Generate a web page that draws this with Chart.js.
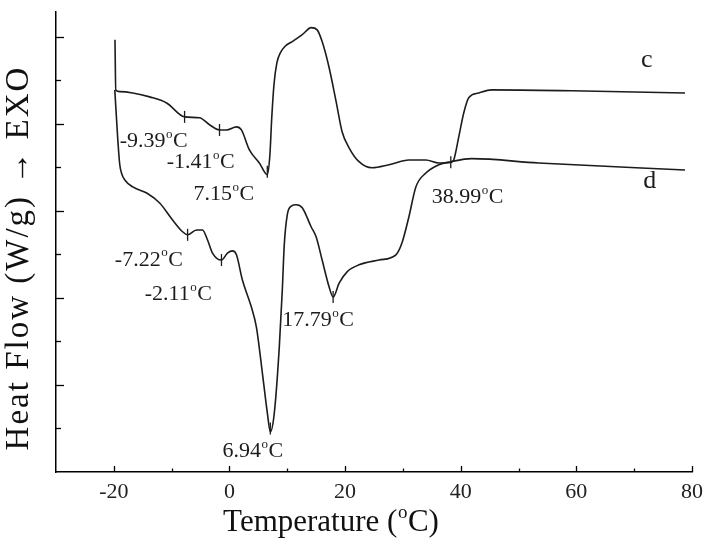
<!DOCTYPE html>
<html><head><meta charset="utf-8">
<script src="https://cdn.jsdelivr.net/npm/chart.js@4.4.1/dist/chart.umd.min.js"></script>
<style>html,body{margin:0;padding:0;background:#fff}#wrap{width:710px;height:547px}</style>
</head><body><div id="wrap"><canvas id="chart" width="710" height="547" style="width:710px;height:547px"></canvas></div>
<script>
// ---- data ----
const cTemp = [-19.8, -19.66, -18.97, -16.72, -13.79, -10.86, -7.76, -5.17, -3.45, -1.72, -0.52, 1.21, 2.07, 3.45, 5.17, 6.55, 7.0, 7.3, 7.7, 8.2, 8.8, 9.66, 10.86, 12.59, 14.14, 15.17, 16.03, 17.24, 18.45, 19.48, 20.69, 22.41, 24.66, 27.59, 31.03, 33.97, 36.21, 38.28, 38.79, 39.66, 40.52, 41.38, 43.1, 45.34, 59.14, 78.79];
const cHeat = [9.93, 8.78, 8.74, 8.71, 8.62, 8.48, 8.16, 8.14, 7.98, 7.86, 7.86, 7.93, 7.86, 7.40, 7.10, 6.83, 7.30, 8.10, 8.90, 9.40, 9.63, 9.79, 9.89, 10.05, 10.21, 10.16, 9.89, 9.29, 8.51, 7.82, 7.45, 7.13, 6.99, 7.06, 7.17, 7.17, 7.10, 7.11, 7.17, 7.70, 8.25, 8.60, 8.71, 8.78, 8.76, 8.71];
const dTemp = [-19.83, -19.31, -18.97, -18.62, -18.1, -16.72, -14.31, -12.07, -9.83, -8.1, -7.24, -5.69, -4.66, -3.79, -2.93, -1.38, -0.34, 0.52, 1.21, 2.24, 3.79, 4.66, 5.69, 6.55, 7.07, 7.76, 8.62, 9.14, 9.48, 10.0, 10.69, 11.55, 12.59, 14.14, 15.0, 16.03, 17.24, 17.93, 18.97, 20.34, 22.41, 25.86, 28.79, 29.83, 31.03, 32.24, 33.97, 36.21, 38.28, 41.9, 53.45, 78.79];
const dHeat = [8.78, 7.63, 7.06, 6.85, 6.71, 6.55, 6.41, 6.18, 5.79, 5.52, 5.45, 5.56, 5.56, 5.33, 5.03, 4.87, 5.03, 5.08, 4.99, 4.41, 3.79, 3.33, 2.28, 1.36, 0.92, 1.36, 2.87, 4.18, 5.22, 5.91, 6.11, 6.14, 6.07, 5.63, 5.40, 4.87, 4.25, 4.02, 4.34, 4.60, 4.76, 4.87, 4.99, 5.26, 5.86, 6.55, 6.87, 7.06, 7.13, 7.20, 7.10, 6.94];
// marked transition points (small vertical ticks on the curves)
const markTemp = [-7.76, -1.72, 6.55, -7.24, -1.38, 7.07, 17.93, 38.28];
const markHeat = [8.16, 7.86, 6.90, 5.45, 4.87, 1.00, 4.02, 7.12];
// peak annotations and curve names
const peakLabels = ['-9.39°C', '-1.41°C', '7.15°C', '-7.22°C', '-2.11°C', '17.79°C', '6.94°C', '38.99°C'];
const curveNames = ['c', 'd'];
const xTickLabels = [-20, 0, 20, 40, 60, 80];
const xTitle = 'Temperature (°C)';
const yTitle = 'Heat Flow (W/g) \u2192 EXO';

// ---- annotation layout (left x / baseline in data units) ----
const peakLabelAnchors = [[-18.97, 7.47], [-10.86, 6.99], [-6.21, 6.25], [-19.83, 4.74], [-14.66, 3.95], [9.14, 3.36], [-1.21, 0.34], [35.0, 6.18]];
const curveNameAnchors = [[71.2, 9.31], [71.55, 6.53]];

const FONT = "'Liberation Serif', 'Times New Roman', serif";
const INK = '#1c1c1c';

function pts(xs, ys) { return xs.map((x, i) => ({x: x, y: ys[i]})); }

function drawSup(ctx, text, x, y, size) {
  const parts = text.split('°');
  ctx.font = size + 'px ' + FONT;
  ctx.fillText(parts[0], x, y);
  let w = ctx.measureText(parts[0]).width;
  if (parts.length > 1) {
    const s = Math.round(size * 0.6);
    ctx.font = s + 'px ' + FONT;
    ctx.fillText('o', x + w + 0.5, y - size * 0.42);
    w += ctx.measureText('o').width + 1;
    ctx.font = size + 'px ' + FONT;
    ctx.fillText(parts[1], x + w, y);
    w += ctx.measureText(parts[1]).width;
  }
  return w;
}
function measureSup(ctx, text, size) {
  const parts = text.split('°');
  ctx.font = size + 'px ' + FONT;
  let w = ctx.measureText(parts[0]).width;
  if (parts.length > 1) {
    ctx.font = Math.round(size * 0.6) + 'px ' + FONT;
    w += ctx.measureText('o').width + 1;
    ctx.font = size + 'px ' + FONT;
    w += ctx.measureText(parts[1]).width;
  }
  return w;
}

const decor = {
  id: 'decor',
  afterDraw(chart) {
    const ctx = chart.ctx, xs = chart.scales.x, ys = chart.scales.y, a = chart.chartArea;
    ctx.save();
    ctx.strokeStyle = '#000';
    ctx.lineWidth = 1.3;
    // inward ticks on x
    xs.ticks.forEach(t => {
      const v = t.value;
      if (v <= xs.min) return;
      const px = Math.round(xs.getPixelForValue(v)) + 0.5;
      const len = (v % 20 === 0) ? 6 : 3.5;
      ctx.beginPath(); ctx.moveTo(px, a.bottom); ctx.lineTo(px, a.bottom - len); ctx.stroke();
    });
    // inward ticks on y
    ys.ticks.forEach(t => {
      const v = t.value;
      if (v <= ys.min || Math.abs(v - Math.round(v)) > 1e-6) return;
      const py = Math.round(ys.getPixelForValue(v)) + 0.5;
      const len = (Math.round(v) % 2 === 0) ? 8 : 5;
      ctx.beginPath(); ctx.moveTo(a.left, py); ctx.lineTo(a.left + len, py); ctx.stroke();
    });
    // annotations
    ctx.fillStyle = INK;
    ctx.textBaseline = 'alphabetic';
    ctx.textAlign = 'left';
    peakLabels.forEach((txt, i) => {
      const p = peakLabelAnchors[i];
      drawSup(ctx, txt, xs.getPixelForValue(p[0]), ys.getPixelForValue(p[1]), 22);
    });
    curveNames.forEach((txt, i) => {
      const p = curveNameAnchors[i];
      ctx.font = '26px ' + FONT;
      ctx.fillText(txt, xs.getPixelForValue(p[0]), ys.getPixelForValue(p[1]));
    });
    // axis titles
    ctx.fillStyle = '#111';
    const xw = measureSup(ctx, xTitle, 31);
    drawSup(ctx, xTitle, 331 - xw / 2, 531, 31);
    ctx.translate(28, 258);
    ctx.rotate(-Math.PI / 2);
    ctx.font = '33px ' + FONT;
    if ('letterSpacing' in ctx) ctx.letterSpacing = '2px';
    ctx.textAlign = 'center';
    ctx.fillText(yTitle, 0, 0);
    ctx.restore();
  }
};

new Chart(document.getElementById('chart'), {
  type: 'scatter',
  data: {
    datasets: [
      {label: 'c', data: pts(cTemp, cHeat), showLine: true, borderColor: INK, borderWidth: 1.6, pointRadius: 0, cubicInterpolationMode: 'monotone', fill: false},
      {label: 'd', data: pts(dTemp, dHeat), showLine: true, borderColor: INK, borderWidth: 1.6, pointRadius: 0, cubicInterpolationMode: 'monotone', fill: false},
      {label: 'marks', data: pts(markTemp, markHeat), showLine: false, pointStyle: 'line', rotation: 90, pointRadius: 6, borderColor: INK, borderWidth: 1.3, backgroundColor: INK}
    ]
  },
  options: {
    responsive: false,
    animation: false,
    devicePixelRatio: 1,
    layout: {padding: {top: 12, right: 16, left: 0, bottom: 0}},
    plugins: {legend: {display: false}, tooltip: {enabled: false}},
    scales: {
      x: {
        type: 'linear', min: -30, max: 80,
        grid: {display: false, drawTicks: false},
        border: {display: true, color: '#000', width: 1.5},
        ticks: {
          stepSize: 10, autoSkip: false, maxRotation: 0, padding: 7, color: '#222',
          font: {family: FONT, size: 22},
          callback: v => (xTickLabels.includes(v) ? String(v) : '')
        },
        afterFit: s => { s.height = 75; }
      },
      y: {
        type: 'linear', min: 0, max: 10.57,
        grid: {display: false, drawTicks: false},
        border: {display: true, color: '#000', width: 1.5},
        ticks: {display: false, stepSize: 1},
        afterFit: s => { s.width = 56; }
      }
    }
  },
  plugins: [decor]
});
</script>
</body></html>
